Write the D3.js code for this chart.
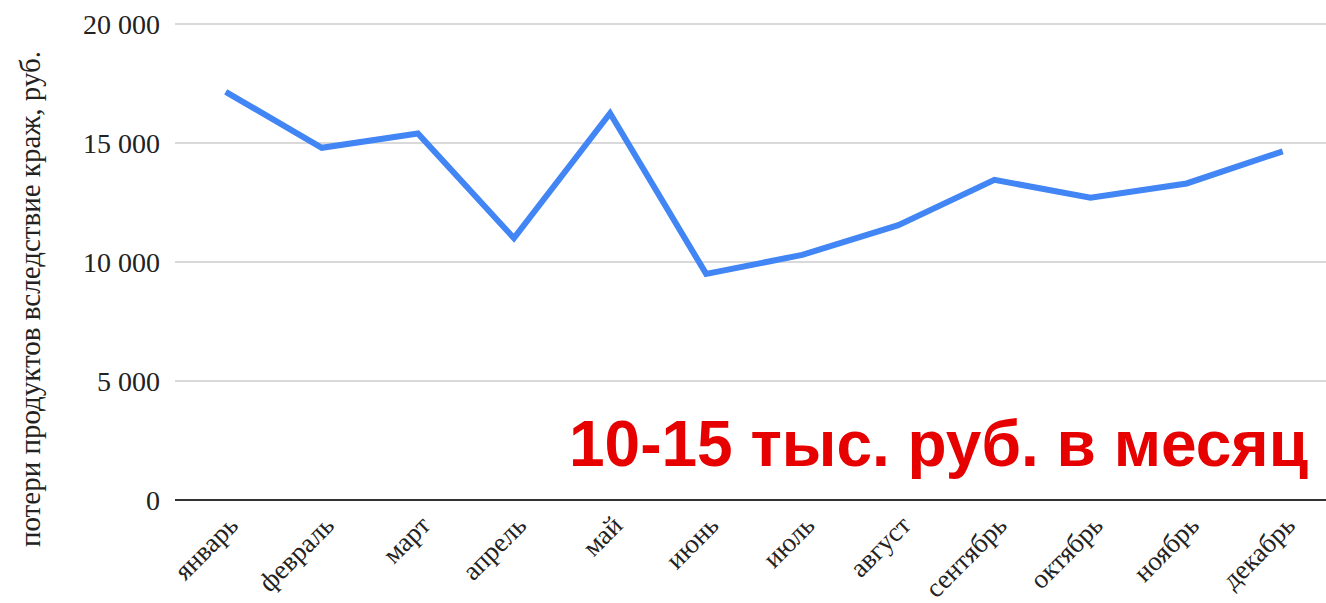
<!DOCTYPE html>
<html>
<head>
<meta charset="utf-8">
<script src="https://cdn.jsdelivr.net/npm/d3@7"></script>
<style>
  body { margin: 0; background: #fff; }
  svg { display: block; }
</style>
</head>
<body>
<div id="chart"></div>
<script>
// data
var months = ["январь", "февраль", "март", "апрель", "май", "июнь",
  "июль", "август", "сентябрь", "октябрь", "ноябрь", "декабрь"];
var losses = [17150, 14800, 15400, 11000, 16250, 9500,
  10300, 11550, 13450, 12700, 13300, 14650];
var yTicks = [0, 5000, 10000, 15000, 20000];
var yTitle = "потери продуктов вследствие краж, руб.";
var note = "10-15 тыс. руб. в месяц";

var width = 1326, height = 603;
var margin = { top: 24, bottom: 103 };
var serif = "Liberation Serif, Times New Roman, serif";

var svg = d3.select("#chart")
  .append("svg")
  .attr("width", width)
  .attr("height", height);

var x = d3.scalePoint()
  .domain(months)
  .range([225.7, 1282.7]);

var y = d3.scaleLinear()
  .domain([0, 20000])
  .range([height - margin.bottom, margin.top]);

var fmt = function (d) {
  return d3.format(",")(d).replace(/,/g, " ");
};

// grid lines
svg.append("g")
  .selectAll("line")
  .data(yTicks.filter(function (d) { return d > 0; }))
  .enter()
  .append("line")
  .attr("x1", 175)
  .attr("x2", width)
  .attr("y1", function (d) { return y(d); })
  .attr("y2", function (d) { return y(d); })
  .attr("stroke", "#cccccc")
  .attr("stroke-width", 1.5);

// y tick labels
svg.append("g")
  .selectAll("text")
  .data(yTicks)
  .enter()
  .append("text")
  .attr("x", 160)
  .attr("y", function (d) { return y(d); })
  .attr("dy", "0.35em")
  .attr("text-anchor", "end")
  .attr("font-family", serif)
  .attr("font-size", 28)
  .attr("fill", "#222")
  .text(fmt);

// baseline
svg.append("line")
  .attr("x1", 175)
  .attr("x2", width)
  .attr("y1", y(0))
  .attr("y2", y(0))
  .attr("stroke", "#333")
  .attr("stroke-width", 2);

// x labels
svg.append("g")
  .selectAll("text")
  .data(months)
  .enter()
  .append("text")
  .attr("transform", function (d) {
    return "translate(" + (x(d) + 14) + "," + 527 + ") rotate(-45)";
  })
  .attr("text-anchor", "end")
  .attr("font-family", serif)
  .attr("font-size", 27)
  .attr("fill", "#222")
  .text(function (d) { return d; });

// y title
svg.append("text")
  .attr("transform", "translate(40," + 299 + ") rotate(-90)")
  .attr("text-anchor", "middle")
  .attr("font-family", serif)
  .attr("font-size", 29)
  .attr("fill", "#222")
  .text(yTitle);

// the line
var line = d3.line()
  .x(function (d, i) { return x(months[i]); })
  .y(function (d) { return y(d); });

svg.append("path")
  .datum(losses)
  .attr("d", line)
  .attr("fill", "none")
  .attr("stroke", "#4285f4")
  .attr("stroke-width", 6)
  .attr("stroke-linejoin", "miter");

// red annotation
svg.append("text")
  .attr("x", 1308)
  .attr("y", 466)
  .attr("text-anchor", "end")
  .attr("font-family", "Liberation Sans, Arial, sans-serif")
  .attr("font-weight", "bold")
  .attr("font-size", 64)
  .attr("fill", "#e60000")
  .text(note);
</script>
</body>
</html>
